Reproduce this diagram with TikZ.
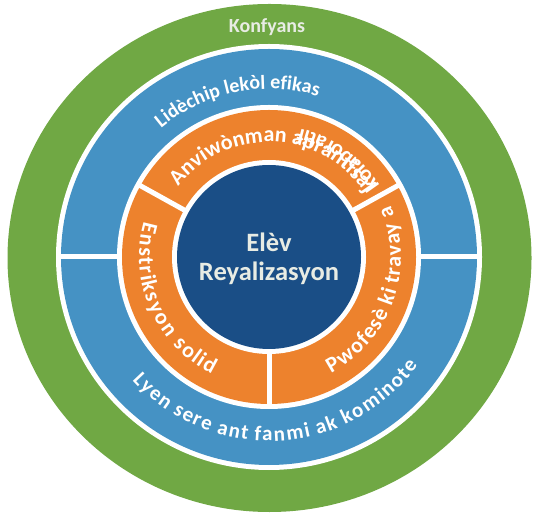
\documentclass[tikz,border=0pt]{standalone}
\usepackage{fontspec}
\setmainfont{Carlito}
\usetikzlibrary{decorations.text,calc}
\definecolor{ringgreen}{HTML}{70A844}
\definecolor{ringblue}{HTML}{4592C4}
\definecolor{ringorange}{HTML}{ED822D}
\definecolor{coreblue}{HTML}{1A4E86}
\definecolor{paletext}{HTML}{E8ECE4}
\newcommand\ringfont{\bfseries\fontsize{20}{24}\selectfont}
\newcommand\ringfontb{\bfseries\fontsize{21}{24}\selectfont}
\newcommand\ringfontc{\bfseries\fontsize{22}{24}\selectfont}
\begin{document}
\begin{tikzpicture}[x=1pt,y=1pt,
  arctext/.style={decorate, decoration={text along path, text color=white, #1}},
  fittext/.style 2 args={decorate, decoration={text effects along path, text={#2},
     text effects/.cd, text along path, fit text to path, characters={text=white, font=#1}}},
  divider/.style={white, line width=5pt}]
\useasboundingbox (0,0) rectangle (534,516);
\coordinate (C) at (269,259);
\coordinate (G) at (269.5,258);
% rings
\fill[ringgreen] (G) ellipse[x radius=262, y radius=254];
\fill[white] (C) circle[radius=213];
\fill[ringblue] (C) circle[radius=208];
\draw[divider] ($(C)+(-210,0)$) -- ($(C)+(210,0)$);
\fill[white] (C) circle[radius=152];
\fill[ringorange] (C) circle[radius=147];
\draw[divider] (C) -- ++(29:150);
\draw[divider] (C) -- ++(151:150);
\draw[divider] (C) -- ++(270:150);
\fill[white] (C) circle[radius=97];
\fill[coreblue] (C) circle[radius=92];
% texts
\node[text=paletext, font=\bfseries\fontsize{20}{22}\selectfont, anchor=base] (konf) at (267,483) {Konfyans};
\node[text=paletext, font=\bfseries\fontsize{26.5}{29}\selectfont, align=center, inner sep=0pt] (core) at (269,257) {Elèv\\Reyalizasyon};
\path[arctext={text align=center, text={|\ringfont|Lidèchip lekòl efikas}}]
  ($(C)+(181.5:168)$) arc[start angle=181.5, end angle=21.5, radius=168];
\path[fittext={\ringfontb}{Lyen sere ant fanmi ak kominote}]
  ($(C)+(222:184)$) arc[start angle=222, end angle=324, radius=184];
\path[fittext={\ringfontc}{Enstriksyon solid}]
  ($(C)+(164:130)$) arc[start angle=164, end angle=244, radius=130];
\path[fittext={\ringfontc}{Pwofesè ki travay a}]
  ($(C)+(298:132)$) arc[start angle=298, end angle=383, radius=132];
\path[arctext={text align=left, text={|\ringfontc|Anviwònman aprantisaj}}]
  ($(C)+(142:115)$) arc[start angle=142, end angle=0, radius=115];
\path[arctext={text align=left, text={|\ringfontc|kolaboratif}}]
  ($(C)+(33:132)$) arc[start angle=33, end angle=150, radius=132];
\end{tikzpicture}
\end{document}
